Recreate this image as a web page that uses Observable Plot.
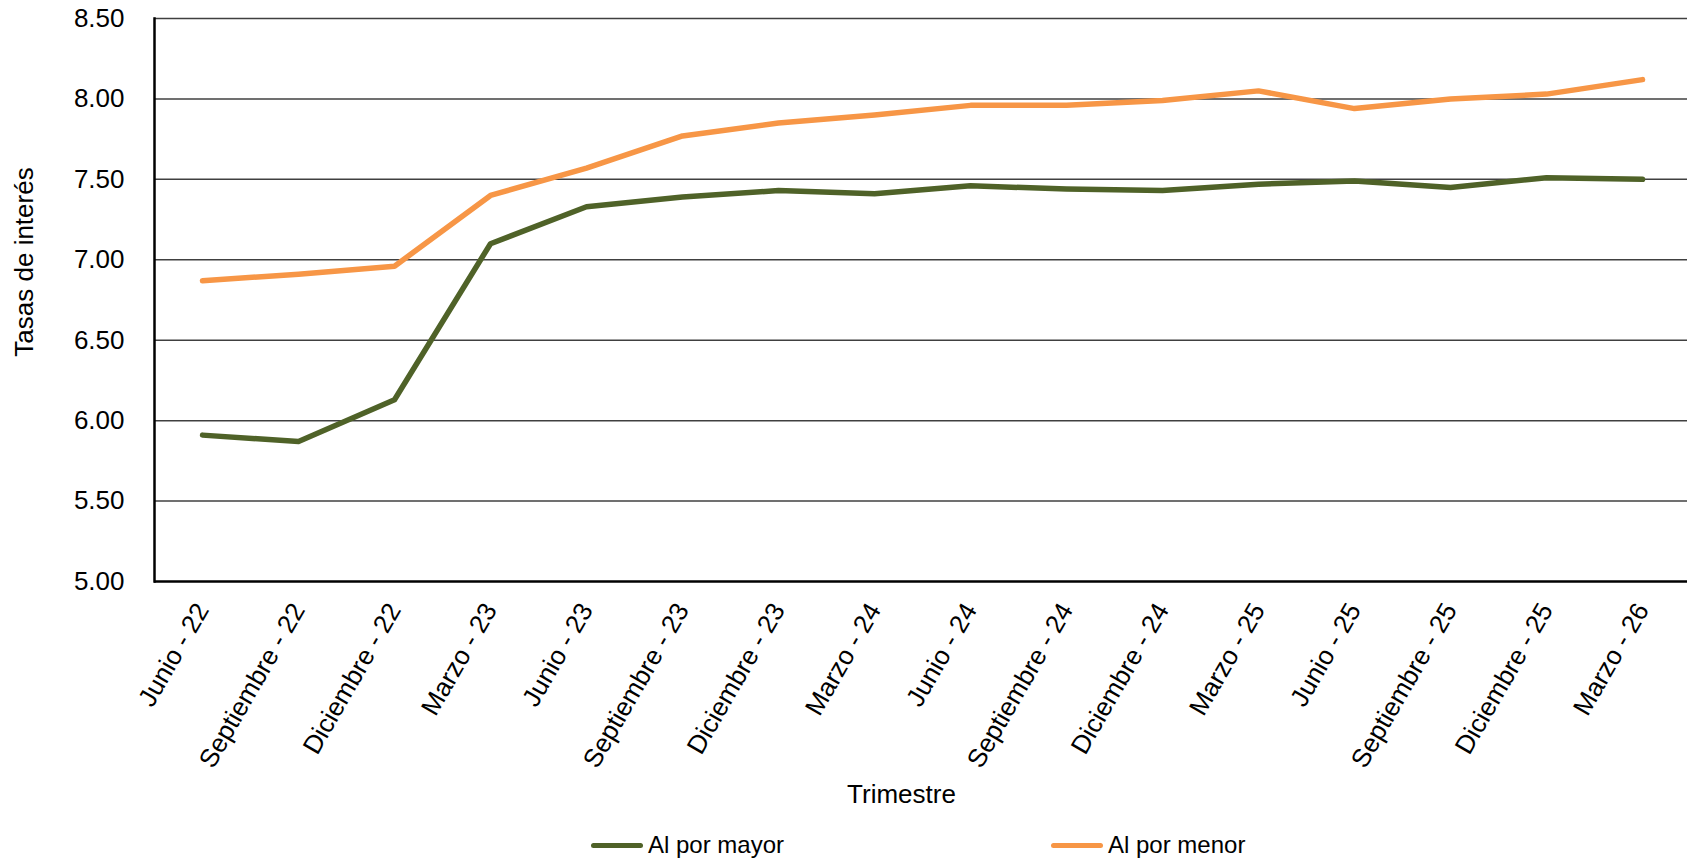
<!DOCTYPE html>
<html>
<head>
<meta charset="utf-8">
<script src="https://cdn.jsdelivr.net/npm/d3@7"></script>
<script src="https://cdn.jsdelivr.net/npm/@observablehq/plot@0.6"></script>
<style>
  body { margin: 0; background: #fff; font-family: "Liberation Sans", Arial, sans-serif; overflow: hidden; }
  #wrap { position: relative; width: 1687px; overflow: hidden; }
  #legend { position: relative; width: 1687px; height: 46px; font-size: 24px; color: #000; }
  .item { position: absolute; height: 24px; display: flex; align-items: center; white-space: nowrap; }
  .sw { display: inline-block; width: 52px; height: 5px; border-radius: 3px; }
  .lb { margin-left: 5px; line-height: 24px; }
</style>
</head>
<body>
<div id="wrap"></div>
<script>
const categories = [
  "Junio - 22", "Septiembre - 22", "Diciembre - 22", "Marzo - 23",
  "Junio - 23", "Septiembre - 23", "Diciembre - 23", "Marzo - 24",
  "Junio - 24", "Septiembre - 24", "Diciembre - 24", "Marzo - 25",
  "Junio - 25", "Septiembre - 25", "Diciembre - 25", "Marzo - 26"
];
const alPorMayor = [5.91, 5.87, 6.13, 7.10, 7.33, 7.39, 7.43, 7.41, 7.46, 7.44, 7.43, 7.47, 7.49, 7.45, 7.51, 7.50];
const alPorMenor = [6.87, 6.91, 6.96, 7.40, 7.57, 7.77, 7.85, 7.90, 7.96, 7.96, 7.99, 8.05, 7.94, 8.00, 8.03, 8.12];
const seriesNames = ["Al por mayor", "Al por menor"];
const seriesColors = ["#4F6228", "#F79646"];
const yTicks = [5.0, 5.5, 6.0, 6.5, 7.0, 7.5, 8.0, 8.5];
const yLabel = "Tasas de interés";
const xLabel = "Trimestre";

const data = categories.flatMap((c, i) => [
  {cat: c, value: alPorMayor[i], serie: seriesNames[0]},
  {cat: c, value: alPorMenor[i], serie: seriesNames[1]}
]);

const chart = Plot.plot({
  width: 1687,
  height: 815,
  marginTop: 18,
  marginLeft: 154,
  marginRight: -3,
  marginBottom: 234,
  style: {fontFamily: "'Liberation Sans', Arial, sans-serif", fontSize: "26px", color: "#000", background: "#fff", overflow: "hidden"},
  x: {type: "point", domain: categories, padding: 0.5, label: null},
  y: {domain: [5, 8.5], label: null},
  color: {domain: seriesNames, range: seriesColors},
  marks: [
    Plot.ruleY(yTicks.filter(d => d > 5), {stroke: "#404040", strokeWidth: 1.5}),
    Plot.ruleY([5], {stroke: "#000", strokeWidth: 2.5}),
    Plot.frame({anchor: "left", stroke: "#000", strokeWidth: 2.5}),
    Plot.axisY({ticks: yTicks, tickFormat: d => d.toFixed(2), tickSize: 0, tickPadding: 30, label: null, fontSize: 26}),
    Plot.axisX({tickRotate: -60, tickSize: 0, tickPadding: 24, label: null, fontSize: 26}),
    Plot.line(data, {x: "cat", y: "value", stroke: "serie", z: "serie", strokeWidth: 5.5, strokeLinecap: "round", strokeLinejoin: "round"}),
    Plot.text([yLabel], {frameAnchor: "left", textAnchor: "middle", lineAnchor: "middle", rotate: -90, dx: -130, dy: -38, fontSize: 26, fill: "#000"}),
    Plot.text([xLabel], {frameAnchor: "bottom", textAnchor: "middle", lineAnchor: "middle", dx: -21, dy: 213, fontSize: 26, fill: "#000"})
  ]
});
document.getElementById("wrap").appendChild(chart);

const legend = document.createElement("div");
legend.id = "legend";
const lefts = [591, 1051];
seriesNames.forEach((name, i) => {
  const it = document.createElement("div");
  it.className = "item";
  it.style.left = lefts[i] + "px";
  it.style.top = "18px";
  const sw = document.createElement("span");
  sw.className = "sw";
  sw.style.background = seriesColors[i];
  const lb = document.createElement("span");
  lb.className = "lb";
  lb.textContent = name;
  it.appendChild(sw);
  it.appendChild(lb);
  legend.appendChild(it);
});
document.getElementById("wrap").appendChild(legend);
</script>
</body>
</html>
